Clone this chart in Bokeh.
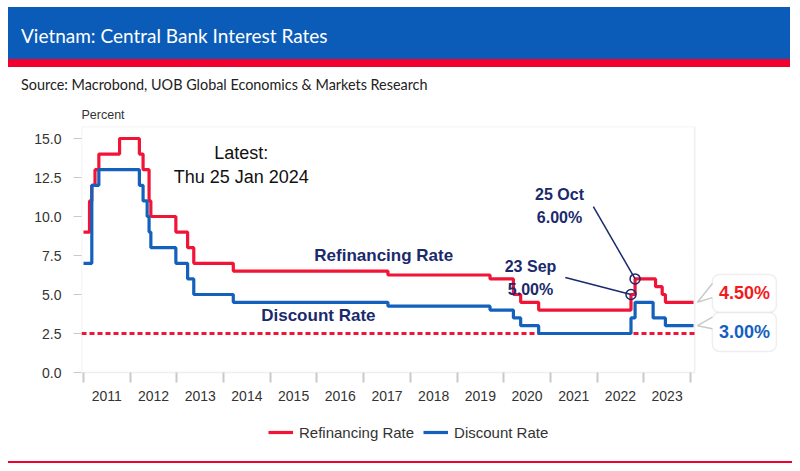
import datetime as dt
from bokeh.plotting import figure
from bokeh.models import (Range1d, FixedTicker, NumeralTickFormatter, BoxAnnotation,
                          Label, Legend, LegendItem, Div)
from bokeh.layouts import column
from bokeh.embed import file_html
from bokeh.resources import INLINE

# ---------------- data ----------------
refi_dates = ["2011-01-01", "2011-02-17", "2011-03-07", "2011-04-01", "2011-05-01",
              "2011-10-10", "2012-03-13", "2012-04-11", "2012-05-28", "2012-06-11",
              "2012-12-24", "2013-03-26", "2013-05-13", "2014-03-18", "2017-07-10",
              "2019-09-16", "2020-03-17", "2020-05-13", "2020-10-01", "2022-09-23",
              "2022-10-25", "2023-04-03", "2023-05-25", "2023-06-19", "2024-01-25"]
refi_rate = [9.0, 11.0, 12.0, 13.0, 14.0,
             15.0, 14.0, 13.0, 11.0, 10.0,
             9.0, 8.0, 7.0, 6.5, 6.25,
             6.0, 5.0, 4.5, 4.0, 5.0,
             6.0, 5.5, 5.0, 4.5, 4.5]

disc_dates = ["2011-01-01", "2011-03-07", "2011-05-01", "2012-03-13", "2012-04-11",
              "2012-05-13", "2012-05-28", "2012-06-11", "2012-12-24", "2013-03-26",
              "2013-05-13", "2014-03-18", "2017-07-10", "2019-09-16", "2020-03-17",
              "2020-05-13", "2020-10-01", "2022-09-23", "2022-10-25", "2023-03-15",
              "2023-06-19", "2024-01-25"]
disc_rate = [7.0, 12.0, 13.0, 12.0, 11.0,
             10.0, 9.0, 8.0, 7.0, 6.0,
             5.0, 4.5, 4.25, 4.0, 3.5,
             3.0, 2.5, 3.5, 4.5, 3.5,
             3.0, 3.0]

year_bounds = list(range(2011, 2025))
year_labels = [str(y) for y in range(2011, 2024)]
y_ticks = [0, 2.5, 5, 7.5, 10, 12.5, 15]
ref_level = 2.5

hl_dates = ["2022-09-23", "2022-10-25"]
hl_values = [5.0, 6.0]
hl_day = ["23 Sep", "25 Oct"]

title_text = "Vietnam: Central Bank Interest Rates"
source_text = "Source: Macrobond, UOB Global Economics &amp; Markets Research"

# ---------------- helpers ----------------
def frac_year(s):
    d = dt.date.fromisoformat(s)
    a = dt.date(d.year, 1, 1)
    b = dt.date(d.year + 1, 1, 1)
    return d.year + (d - a).days / (b - a).days

refi_x = [frac_year(s) for s in refi_dates]
disc_x = [frac_year(s) for s in disc_dates]
hl_x = [frac_year(s) for s in hl_dates]

RED = "#f21437"
BLUE = "#1461bd"
NAVY = "#1a2a6c"
GRAY = "#c9c9c9"
TXT = "#333333"
FONT = "Liberation Sans"

PX_PER_YEAR = 46.69
PX_PER_UNIT = 15.6
FIG_H = 360
BORDER_TOP = 31
X0 = 2011 - 2 / PX_PER_YEAR
X1 = X0 + 709 / PX_PER_YEAR
BOX_RIGHT = 2024.09
Y1 = 15.77
Y0 = Y1 - (FIG_H - BORDER_TOP) / PX_PER_UNIT

p = figure(width=792, height=FIG_H, x_range=Range1d(X0, X1), y_range=Range1d(Y0, Y1),
           output_backend="svg", toolbar_location=None,
           min_border_left=81, min_border_right=2, min_border_top=BORDER_TOP,
           min_border_bottom=0)
p.outline_line_color = None
p.grid.visible = False

p.title.text = "Percent"
p.title.text_font = FONT
p.title.text_font_size = "12.5px"
p.title.text_font_style = "normal"
p.title.text_color = TXT
p.title.align = "left"
p.title.standoff = 10

# y axis
p.yaxis.ticker = FixedTicker(ticks=y_ticks)
p.yaxis.formatter = NumeralTickFormatter(format="0.0")
p.yaxis.axis_line_color = None
p.yaxis.major_tick_line_color = GRAY
p.yaxis.major_tick_out = 8
p.yaxis.major_tick_in = 0
p.yaxis.minor_tick_line_color = None
p.yaxis.major_label_standoff = 12
p.yaxis.major_label_text_font = FONT
p.yaxis.major_label_text_font_size = "14px"
p.yaxis.major_label_text_color = TXT

# x axis fixed at y = 0: labels at mid-year, tick marks at year boundaries
mids = [y + 0.5 for y in range(2011, 2024)]
p.xaxis.fixed_location = 0
p.xaxis.ticker = FixedTicker(ticks=mids, minor_ticks=year_bounds)
p.xaxis.major_label_overrides = {m: lab for m, lab in zip(mids, year_labels)}
p.xaxis.axis_line_color = None
p.xaxis.major_tick_line_color = None
p.xaxis.major_tick_out = 0
p.xaxis.major_tick_in = 0
p.xaxis.minor_tick_line_color = GRAY
p.xaxis.minor_tick_line_width = 2
p.xaxis.minor_tick_out = 10
p.xaxis.minor_tick_in = 0
p.xaxis.major_label_standoff = 8
p.xaxis.major_label_text_font = FONT
p.xaxis.major_label_text_font_size = "14px"
p.xaxis.major_label_text_color = TXT

# chart box
p.add_layout(BoxAnnotation(right=BOX_RIGHT, bottom=0, fill_color=None, line_color=GRAY,
                           line_width=1.5, level="underlay"))

# reference dashed line
p.line([X0, BOX_RIGHT], [ref_level, ref_level], line_color=RED, line_width=3, line_dash="5 3")

r_refi = p.step(refi_x, refi_rate, mode="after", line_color=RED, line_width=3.2)
r_disc = p.step(disc_x, disc_rate, mode="after", line_color=BLUE, line_width=3.2)

# highlight points with leader lines
lead_x = [2021.32, 2021.92]
lead_y = [6.09, 10.64]
p.segment(x0=lead_x, y0=lead_y, x1=hl_x, y1=hl_values, line_color=NAVY, line_width=1.5)
p.scatter(hl_x, hl_values, size=10, fill_color=None, line_color=NAVY, line_width=1.5)

def lab(x, y, text, size, bold=True, color=NAVY, font=FONT):
    p.add_layout(Label(x=x, y=y, text=text, text_align="center", text_baseline="middle",
                       text_font=font, text_font_size=size,
                       text_font_style="bold" if bold else "normal", text_color=color))

lab(2020.574, 6.79, hl_day[0], "16px")
lab(2020.574, 5.32, f"{hl_values[0]:.2f}%", "16px")
lab(2021.195, 11.41, hl_day[1], "16px")
lab(2021.195, 9.94, f"{hl_values[1]:.2f}%", "16px")

lab(2017.43, 7.5, "Refinancing Rate", "17px")
lab(2016.03, 3.65, "Discount Rate", "17px")

lab(2014.38, 14.10, "Latest:", "18px", bold=False, color="#111111")
lab(2014.38, 12.56, "Thu 25 Jan 2024", "18px", bold=False, color="#111111")

# callouts on the right
last_r = refi_rate[-1]
last_b = disc_rate[-1]
tip_x = 2024.15
bx0, bx1 = 2024.47, 2025.84
callouts = [
    (last_r, "#f21c1c", last_r + 1.78, last_r - 0.65, last_r + 1.2, last_r + 0.3),
    (last_b, BLUE, last_b + 0.85, last_b - 1.65, last_b + 0.55, last_b - 0.2),
]
for val, col, top, bot, b_hi, b_lo in callouts:
    p.add_layout(BoxAnnotation(left=bx0, right=bx1, top=top, bottom=bot, fill_color="white",
                               fill_alpha=1, line_color=GRAY, line_width=1.5, border_radius=7))
    p.patch([bx0 + 0.03, tip_x, bx0 + 0.03], [b_hi, val, b_lo], fill_color="white",
            line_color=None, level="overlay")
    p.line([bx0, tip_x, bx0], [b_hi, val, b_lo], line_color=GRAY, line_width=1.5, level="overlay")
    p.add_layout(Label(x=(bx0 + bx1) / 2, y=(top + bot) / 2, text=f"{val:.2f}%",
                       text_align="center", text_baseline="middle", text_font=FONT,
                       text_font_size="18px", text_font_style="bold", text_color=col))

legend = Legend(items=[LegendItem(label="Refinancing Rate", renderers=[r_refi]),
                       LegendItem(label="Discount Rate", renderers=[r_disc])],
                orientation="horizontal", location=(187, 13))
legend.label_text_font = FONT
legend.label_text_font_size = "15px"
legend.label_text_color = TXT
legend.glyph_width = 25
legend.label_standoff = 6
legend.spacing = 9
legend.padding = 0
legend.margin = 0
legend.border_line_color = None
legend.background_fill_alpha = 0
p.add_layout(legend)

header_html = f"""
<div style="position:relative;width:800px;height:95px;font-family:Lato,'Open Sans',sans-serif;">
  <div style="position:absolute;left:8px;top:7px;width:782px;height:52px;background:#0a5cb8;"></div>
  <div style="position:absolute;left:8px;top:59px;width:782px;height:8px;background:#f2002d;"></div>
  <div style="position:absolute;left:21px;top:26px;color:white;font-size:19px;line-height:20px;white-space:nowrap;">{title_text}</div>
  <div style="position:absolute;left:21px;top:77px;color:#222;font-size:14.4px;line-height:16px;white-space:nowrap;">{source_text}</div>
  <div style="position:absolute;left:8px;top:461px;width:784px;height:2px;background:#f2002d;"></div>
</div>"""
header = Div(text=header_html, width=800, height=95, margin=(0, 0, 0, 0))

layout = column(header, p, spacing=0)
open("out.html", "w").write(file_html(layout, INLINE))
